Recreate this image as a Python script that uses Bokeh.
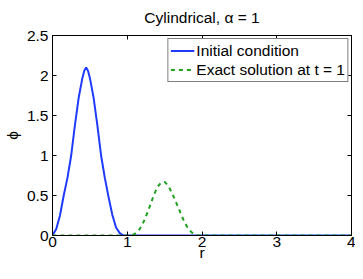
from bokeh.plotting import figure
from bokeh.models import LinearAxis, Range1d, FixedTicker, Legend, LegendItem, CustomLabelingPolicy
from bokeh.embed import file_html
from bokeh.resources import INLINE

# Data
r_init = [0.00, 0.05, 0.10, 0.15, 0.20, 0.25, 0.30, 0.35, 0.40, 0.425, 0.45, 0.475, 0.50, 0.55,
          0.60, 0.65, 0.70, 0.75, 0.80, 0.85, 0.90, 0.95, 1.00, 2.00, 3.00, 4.00]
phi_init = [0.00, 0.08, 0.25, 0.50, 0.72, 1.00, 1.38, 1.72, 1.97, 2.06, 2.10, 2.06, 1.97, 1.72,
            1.38, 1.00, 0.72, 0.48, 0.26, 0.10, 0.03, 0.00, 0.00, 0.00, 0.00, 0.00]

r_exact = [0.00, 1.00, 1.05, 1.10, 1.15, 1.20, 1.25, 1.30, 1.35, 1.40, 1.45, 1.50,
           1.55, 1.60, 1.65, 1.70, 1.75, 1.80, 1.85, 1.90, 1.95, 2.00, 3.00, 4.00]
phi_exact = [0.00, 0.00, 0.00, 0.02, 0.06, 0.13, 0.24, 0.36, 0.49, 0.60, 0.66, 0.67,
             0.62, 0.53, 0.42, 0.31, 0.20, 0.11, 0.05, 0.01, 0.00, 0.00, 0.00, 0.00]

x_ticks = [0, 1, 2, 3, 4]
y_ticks = [0, 0.5, 1, 1.5, 2, 2.5]

FONT = "Liberation Sans"
FS = "15.5px"

p = figure(width=355, height=263, output_backend="svg", toolbar_location=None,
           x_range=Range1d(0, 4), y_range=Range1d(0, 2.5),
           min_border_left=0, min_border_right=0, min_border_top=0, min_border_bottom=0)

p.title.text = "Cylindrical, \u03b1 = 1"
p.title.align = "center"
p.title.text_font = FONT
p.title.text_font_size = FS
p.title.text_font_style = "normal"
p.title.text_color = "black"
p.title.standoff = 12

p.grid.visible = False
p.outline_line_color = "black"
p.outline_line_width = 1
p.background_fill_color = "white"

def style_axis(ax, labels=True):
    ax.major_tick_in = 4
    ax.major_tick_out = 0
    ax.minor_tick_in = 0
    ax.minor_tick_out = 0
    ax.axis_line_color = "black"
    ax.major_tick_line_color = "black"
    ax.major_label_text_font = FONT
    ax.major_label_text_font_size = FS
    ax.major_label_text_color = "black"
    ax.axis_label_text_font = FONT
    ax.axis_label_text_font_size = FS
    ax.axis_label_text_font_style = "normal"
    ax.axis_label_text_color = "black"
    if not labels:
        ax.major_label_policy = CustomLabelingPolicy(code="return new Set();")
        ax.major_label_text_font_size = "1px"
        ax.major_label_standoff = 0

p.xaxis.ticker = FixedTicker(ticks=x_ticks)
p.yaxis.ticker = FixedTicker(ticks=y_ticks)
p.xaxis.axis_label = "r"
p.yaxis.axis_label = "\u03d5"
style_axis(p.xaxis[0])
style_axis(p.yaxis[0])
p.xaxis.major_label_standoff = 1
p.xaxis.axis_label_standoff = -6
p.yaxis.major_label_standoff = 4
p.yaxis.axis_label_standoff = 3

top = LinearAxis(ticker=FixedTicker(ticks=x_ticks))
right = LinearAxis(ticker=FixedTicker(ticks=y_ticks))
style_axis(top, labels=False)
style_axis(right, labels=False)
p.add_layout(top, "above")
p.add_layout(right, "right")

l1 = p.line(r_init, phi_init, line_color="#1f3bff", line_width=2)
l2 = p.line(r_exact, phi_exact, line_color="#1fa01f", line_width=2, line_dash="4 4")

legend = Legend(items=[LegendItem(label="Initial condition", renderers=[l1]),
                       LegendItem(label="Exact solution at t = 1", renderers=[l2])],
                location="top_right")
legend.label_text_font = FONT
legend.label_text_font_size = FS
legend.label_text_color = "black"
legend.border_line_color = "black"
legend.border_line_width = 1
legend.background_fill_alpha = 1
legend.glyph_width = 24
legend.glyph_height = 19
legend.label_standoff = 2
legend.padding = 2
legend.spacing = 0
legend.margin = 3
legend.label_height = 19
p.add_layout(legend, "center")

open("out.html", "w").write(file_html(p, INLINE))
